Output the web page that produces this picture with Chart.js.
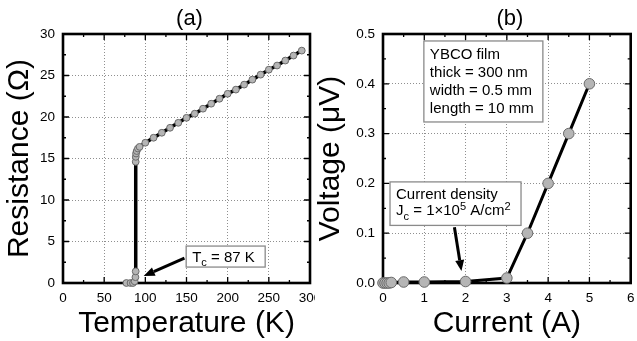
<!DOCTYPE html>
<html>
<head>
<meta charset="utf-8">
<script src="https://cdn.jsdelivr.net/npm/chart.js@4.4.0/dist/chart.umd.min.js"></script>
<style>
  body { margin: 0; background: #fff; width: 637px; height: 341px; position: relative; overflow: hidden; }
  canvas { position: absolute; top: 0; }
  #chartA { left: 0; }
  #chartB { left: 315px; }
</style>
</head>
<body>
<canvas id="chartA" width="315" height="341"></canvas>
<canvas id="chartB" width="322" height="341"></canvas>
<script>
// (a) resistance of the film vs temperature
const tempK = [77, 82, 85, 87, 88, 88.3, 88.3, 88.4, 88.7, 89.5, 91, 93, 100, 110, 120, 130, 140, 150, 160, 170,
               180, 190, 200, 210, 220, 230, 240, 250, 260, 270, 280, 290];
const resOhm = [0, 0, 0, 0.2, 0.7, 1.4, 14.6, 15.2, 15.6, 15.9, 16.2, 16.4, 16.9, 17.5, 18.1, 18.7, 19.3, 19.9, 20.4, 21.0,
                21.6, 22.2, 22.8, 23.3, 23.9, 24.5, 25.1, 25.7, 26.2, 26.8, 27.4, 28.0];

// (b) voltage vs current
const currentA = [0, 0.05, 0.1, 0.15, 0.2, 0.5, 1, 2, 3, 3.5, 4, 4.5, 5];
const voltageUV = [0, 0, 0, 0, 0.001, 0.002, 0.002, 0.003, 0.01, 0.1, 0.2, 0.3, 0.4];

const FONT = '"Liberation Sans", Arial, Helvetica, sans-serif';

function drawRich(ctx, x, y, parts, size) {
    // parts: [text, 'n' | 'sub' | 'sup']
    for (let i = 0; i < parts.length; i++) {
        let txt = parts[i][0], kind = parts[i][1];
        let fs = kind == 'n' ? size : size * 0.74;
        let dy = kind == 'sub' ? size * 0.3 : (kind == 'sup' ? -size * 0.38 : 0);
        ctx.font = fs + 'px ' + FONT;
        ctx.fillText(txt, x, y + dy);
        x += ctx.measureText(txt).width;
    }
}

function drawArrow(ctx, x1, y1, x2, y2) {
    let ang = Math.atan2(y2 - y1, x2 - x1);
    let hl = 11, hw = 4.5;
    let bx = x2 - hl * Math.cos(ang), by = y2 - hl * Math.sin(ang);
    ctx.strokeStyle = '#000';
    ctx.lineWidth = 3;
    ctx.beginPath();
    ctx.moveTo(x1, y1);
    ctx.lineTo(bx, by);
    ctx.stroke();
    ctx.fillStyle = '#000';
    ctx.beginPath();
    ctx.moveTo(x2, y2);
    ctx.lineTo(bx + hw * Math.sin(ang), by - hw * Math.cos(ang));
    ctx.lineTo(bx - hw * Math.sin(ang), by + hw * Math.cos(ang));
    ctx.closePath();
    ctx.fill();
}

const panelDeco = {
    id: 'panelDeco',
    beforeDatasetsDraw(chart) {
        // frame with inward major / minor ticks
        const {ctx, chartArea: a, scales: {x, y}} = chart;
        ctx.save();
        ctx.strokeStyle = '#000';
        ctx.lineWidth = 1.3;
        ctx.beginPath();
        const xv = x.ticks.map(t => t.value);
        for (let i = 0; i < xv.length; i++) {
            let px = x.getPixelForValue(xv[i]);
            ctx.moveTo(px, a.bottom); ctx.lineTo(px, a.bottom - 6);
            ctx.moveTo(px, a.top); ctx.lineTo(px, a.top + 6);
            if (i < xv.length - 1) {
                let pm = x.getPixelForValue((xv[i] + xv[i + 1]) / 2);
                ctx.moveTo(pm, a.bottom); ctx.lineTo(pm, a.bottom - 3);
                ctx.moveTo(pm, a.top); ctx.lineTo(pm, a.top + 3);
            }
        }
        const yv = y.ticks.map(t => t.value);
        for (let i = 0; i < yv.length; i++) {
            let py = y.getPixelForValue(yv[i]);
            ctx.moveTo(a.left, py); ctx.lineTo(a.left + 6, py);
            ctx.moveTo(a.right, py); ctx.lineTo(a.right - 6, py);
            if (i < yv.length - 1) {
                let pm = y.getPixelForValue((yv[i] + yv[i + 1]) / 2);
                ctx.moveTo(a.left, pm); ctx.lineTo(a.left + 3, pm);
                ctx.moveTo(a.right, pm); ctx.lineTo(a.right - 3, pm);
            }
        }
        ctx.stroke();
        ctx.lineWidth = 2.6;
        ctx.strokeRect(a.left, a.top, a.right - a.left, a.bottom - a.top);
        ctx.restore();
    },
    afterDatasetsDraw(chart, args, opts) {
        const {ctx, chartArea: a, scales: {x, y}} = chart;
        ctx.save();
        // panel label
        ctx.fillStyle = '#000';
        ctx.font = '22px ' + FONT;
        ctx.textAlign = 'center';
        ctx.textBaseline = 'middle';
        ctx.fillText(opts.label, (a.left + a.right) / 2 + 3, 19);
        ctx.textAlign = 'left';
        ctx.textBaseline = 'alphabetic';
        // arrows
        (opts.arrows || []).forEach(ar => {
            drawArrow(ctx, x.getPixelForValue(ar.from[0]), y.getPixelForValue(ar.from[1]),
                x.getPixelForValue(ar.to[0]), y.getPixelForValue(ar.to[1]));
        });
        // text boxes
        (opts.boxes || []).forEach(b => {
            let bx = x.getPixelForValue(b.at[0]), by = y.getPixelForValue(b.at[1]);
            ctx.fillStyle = '#fff';
            ctx.fillRect(bx, by, b.w, b.h);
            ctx.strokeStyle = '#8a8a8a';
            ctx.lineWidth = 1.3;
            ctx.strokeRect(bx, by, b.w, b.h);
            ctx.fillStyle = '#000';
            b.lines.forEach((ln, k) => {
                drawRich(ctx, bx + 6, by + b.first + k * b.step, ln, 15);
            });
        });
        ctx.restore();
    }
};

function axisFit(size, horizontal) {
    return function(s) {
        if (horizontal) s.height = size; else s.width = size;
        s.paddingLeft = 0; s.paddingRight = 0; s.paddingTop = 0; s.paddingBottom = 0;
    };
}

function makeChart(canvasId, xs, ys, o) {
    let pts = xs.map((v, i) => ({x: v, y: ys[i]}));
    return new Chart(document.getElementById(canvasId), {
        type: 'scatter',
        data: {
            datasets: [{
                data: pts,
                showLine: true,
                borderColor: '#000',
                borderWidth: o.lineWidth,
                pointRadius: o.pointRadius,
                pointBackgroundColor: '#b5b5b5',
                pointBorderColor: '#6a6a6a',
                pointBorderWidth: 1,
                clip: 10
            }]
        },
        options: {
            responsive: false,
            animation: false,
            events: [],
            layout: { padding: { left: 0, right: o.padRight, top: 34, bottom: 0 } },
            plugins: {
                legend: { display: false },
                tooltip: { enabled: false },
                panelDeco: o.deco
            },
            scales: {
                x: {
                    type: 'linear', min: o.xMin, max: o.xMax,
                    ticks: { stepSize: o.xStep, autoSkip: false, maxRotation: 0, padding: 7,
                             color: '#000', font: { family: FONT, size: 13.5 } },
                    grid: { color: '#8f8f8f', drawTicks: false, lineWidth: 1 },
                    border: { display: false, dash: [1, 2] },
                    title: { display: true, text: o.xTitle, color: '#000',
                             font: { family: FONT, size: 30, lineHeight: 1 }, padding: { top: 0, bottom: 2 } },
                    afterFit: axisFit(58, true)
                },
                y: {
                    type: 'linear', min: o.yMin, max: o.yMax,
                    ticks: { stepSize: o.yStep, padding: 8, color: '#000',
                             font: { family: FONT, size: 13.5 }, callback: o.yFmt },
                    grid: { color: '#8f8f8f', drawTicks: false, lineWidth: 1 },
                    border: { display: false, dash: [1, 2] },
                    title: { display: true, text: o.yTitle, color: '#000',
                             font: { family: FONT, size: 30, lineHeight: 1 }, padding: { top: o.yTitlePad, bottom: 0 } },
                    afterFit: axisFit(o.yWidth, false)
                }
            }
        },
        plugins: [panelDeco]
    });
}

makeChart('chartA', tempK, resOhm, {
    xMin: 0, xMax: 300, xStep: 50, yMin: 0, yMax: 30, yStep: 5,
    xTitle: 'Temperature (K)', yTitle: 'Resistance (\u03A9)',
    yFmt: v => v, yWidth: 63, yTitlePad: 5, padRight: 4,
    lineWidth: 3.5, pointRadius: 3.4,
    deco: {
        label: '(a)',
        arrows: [{ from: [147.5, 3.0], to: [98, 0.85] }],
        boxes: [{ at: [149.6, 4.45], w: 79, h: 21, first: 15.5, step: 0,
                  lines: [[['T', 'n'], ['c', 'sub'], [' = 87 K', 'n']]] }]
    }
});

makeChart('chartB', currentA, voltageUV, {
    xMin: 0, xMax: 6, xStep: 1, yMin: 0, yMax: 0.5, yStep: 0.1,
    xTitle: 'Current (A)', yTitle: 'Voltage (\u03BCV)',
    yFmt: v => v.toFixed(1), yWidth: 68, yTitlePad: 1, padRight: 5,
    lineWidth: 3, pointRadius: 5.3,
    deco: {
        label: '(b)',
        arrows: [{ from: [1.73, 0.112], to: [1.9, 0.024] }],
        boxes: [
            { at: [0.99, 0.486], w: 119, h: 81, first: 18.3, step: 17.8,
              lines: [[['YBCO film', 'n']], [['thick = 300 nm', 'n']], [['width = 0.5 mm', 'n']], [['length = 10 mm', 'n']]] },
            { at: [0.17, 0.203], w: 131, h: 43.5, first: 16.6, step: 16.8,
              lines: [[['Current density', 'n']],
                      [['J', 'n'], ['c', 'sub'], [' = 1\u00D710', 'n'], ['5', 'sup'], [' A/cm', 'n'], ['2', 'sup']]] }
        ]
    }
});
</script>
</body>
</html>
